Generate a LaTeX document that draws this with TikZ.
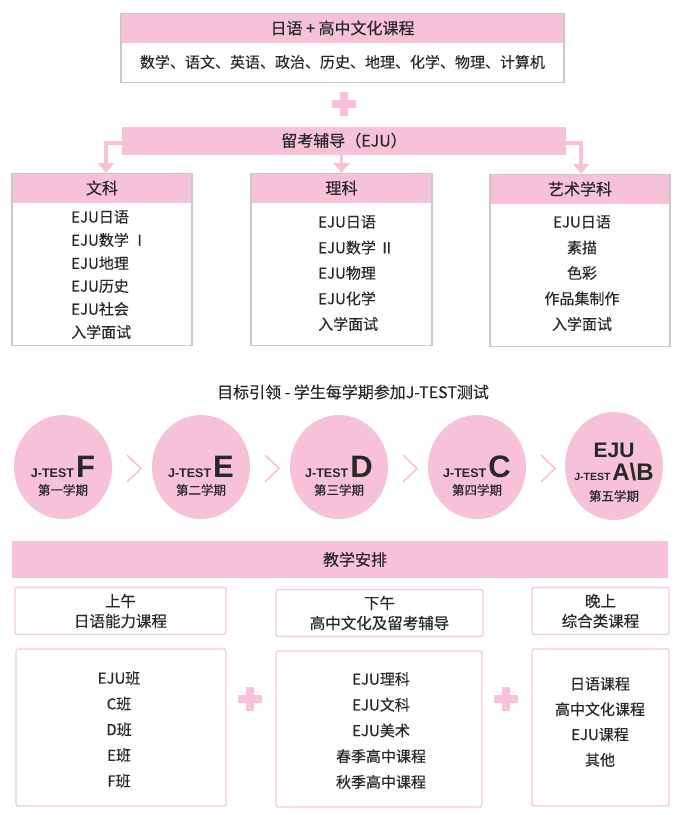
\documentclass[tikz,border=0pt]{standalone}
\usepackage{fontspec}
\setmainfont{Noto Sans CJK SC}[FakeBold=0.35]
\newfontfamily\latinfont{Liberation Sans}
\usetikzlibrary{arrows.meta,positioning,shapes.geometric}
\definecolor{pinkfill}{RGB}{247,194,216}
\definecolor{pinkline}{RGB}{246,200,220}
\definecolor{graybd}{RGB}{200,200,200}
\definecolor{txt}{RGB}{40,40,40}

\tikzset{plussign/.pic={\fill[pinkfill] (-12,-4) rectangle (12,4);
                        \fill[pinkfill] (-4,-12) rectangle (4,12);}}

\begin{document}
\begin{tikzpicture}[x=1pt,y=-1pt,
                    every node/.style={text=txt,inner sep=0pt},
                    band/.style={fill=pinkfill,font=\fontsize{16}{18}\selectfont},
                    graybox/.style={draw=graybd,line width=1.2pt},
                    pinkbox/.style={draw=pinkline,line width=1.4pt,rounded corners=2pt},
                    item/.style={font=\fontsize{15}{17}\selectfont},
                    term/.style={ellipse,fill=pinkfill,minimum width=98pt,minimum height=104pt},
                    pinkarrow/.style={draw=pinkfill,line width=3.5pt,-{Triangle[width=16pt,length=10pt]}},
                    chev/.style={draw=pinkfill,line width=1.6pt}]
\useasboundingbox (0,0) rectangle (693,815);

% top: japanese + high school
\node[band,minimum width=443pt,minimum height=30pt] (tophead) at (342.5,28) {日语 + 高中文化课程};
\node[graybox,minimum width=443pt,minimum height=69pt,anchor=north] (topbox) at (tophead.north) {};
\node[item] (topsub) at (342.5,62) {数学、语文、英语、政治、历史、地理、化学、物理、计算机};
\pic at (343.5,103.5) {plussign};

% EJU bar and the three branches
\node[band,minimum width=444pt,minimum height=28pt] (eju) at (344,140.5) {留考辅导（EJU）};

\node[band,minimum width=180pt,minimum height=30pt] (wenke) at (102,188) {文科};
\node[graybox,minimum width=180pt,minimum height=172pt,anchor=north] (wenkebox) at (wenke.north) {};
\node[band,minimum width=181pt,minimum height=30pt] (like) at (341.5,188) {理科};
\node[graybox,minimum width=181pt,minimum height=172pt,anchor=north] (likebox) at (like.north) {};
\node[band,minimum width=180pt,minimum height=30pt] (yishu) at (580,189) {艺术学科};
\node[graybox,minimum width=180pt,minimum height=172pt,anchor=north] (yishubox) at (yishu.north) {};

\draw[pinkarrow] ([yshift=-2.5pt]eju.west) -| ([xshift=4pt]wenke.north);
\draw[pinkarrow] (eju.south -| like.north) -- (like.north);
\draw[pinkarrow] ([yshift=-2.5pt]eju.east) -| ([xshift=1pt]yishu.north);

\foreach \t [count=\i] in {EJU日语,EJU数学 Ⅰ,EJU地理,EJU历史,EJU社会,入学面试}
  \node[item,anchor=west] (wk\i) at (71,194+23*\i) {\t};
\foreach \t [count=\i] in {EJU日语,EJU数学 Ⅱ,EJU物理,EJU化学,入学面试}
  \node[item,anchor=west] (lk\i) at (318,196.5+25.5*\i) {\t};
\foreach \t [count=\i] in {EJU日语,素描,色彩,作品集制作,入学面试}
  \node[item] (ys\i) at (582,196.5+25.5*\i) {\t};

% J-TEST terms
\node[font=\fontsize{16}{18}\selectfont] (goal) at (353,392) {目标引领 - 学生每学期参加J-TEST测试};

\foreach \cx/\lv/\tm [count=\i] in {63/F/第一学期,201/E/第二学期,339/D/第三学期,477/C/第四学期}{
  \node[term] (t\i) at (\cx,467) {};
  \node[anchor=base] (jt\i) at (\cx,477)
    {\latinfont\bfseries\fontsize{12.5}{14}\selectfont J-TEST\,\fontsize{31}{31}\selectfont\lv};
  \node[font=\fontsize{12.5}{14}\selectfont] (tm\i) at (\cx,490) {\tm};
}
\node[term,minimum height=108pt] (t5) at (614,466) {};
\node[anchor=base,font=\latinfont\bfseries\fontsize{21}{22}\selectfont] (eju5) at (614,457) {EJU};
\node[anchor=base] (jt5) at (614,480)
  {\latinfont\bfseries\fontsize{10.5}{12}\selectfont J-TEST\,\fontsize{24}{24}\selectfont A\textbackslash B};
\node[font=\fontsize{12.5}{14}\selectfont] (tm5) at (614,496) {第五学期};

\foreach \x in {127,265,403,541}
  \draw[chev] (\x,455) -- (\x+14,468.5) -- (\x,482);

% timetable
\node[fill=pinkfill,minimum width=656pt,minimum height=37pt] (plan) at (340,559.5) {};
\node[font=\fontsize{16}{18}\selectfont] (plantxt) at (355,559.5) {教学安排};

\node[pinkbox,minimum width=211pt,minimum height=47pt,align=center,
      font=\fontsize{15.5}{20}\selectfont] (am) at (120.5,611) {上午\\日语能力课程};
\node[pinkbox,minimum width=207pt,minimum height=47pt,align=center,
      font=\fontsize{15.5}{20}\selectfont] (pm) at (379.5,613) {下午\\高中文化及留考辅导};
\node[pinkbox,minimum width=137pt,minimum height=47pt,align=center,
      font=\fontsize{15.5}{20}\selectfont] (night) at (600.5,611) {晚上\\综合类课程};

\node[pinkbox,minimum width=210pt,minimum height=157pt] (ambox) at (121,727.5) {};
\node[pinkbox,minimum width=206pt,minimum height=156pt] (pmbox) at (379,729) {};
\node[pinkbox,minimum width=137pt,minimum height=157pt] (nightbox) at (600.5,727.5) {};
\pic at (250,699) {plussign};
\pic at (506,699) {plussign};

\foreach \t [count=\i] in {EJU班,C班,D班,E班,F班}
  \node[item] (a\i) at (119,652.3+25.7*\i) {\t};
\foreach \t [count=\i] in {EJU理科,EJU文科,EJU美术,春季高中课程,秋季高中课程}
  \node[item] (p\i) at (381,653.2+25.75*\i) {\t};
\foreach \t [count=\i] in {日语课程,高中文化课程,EJU课程,其他}
  \node[item] (n\i) at (600,658.6+25.3*\i) {\t};
\end{tikzpicture}
\end{document}
